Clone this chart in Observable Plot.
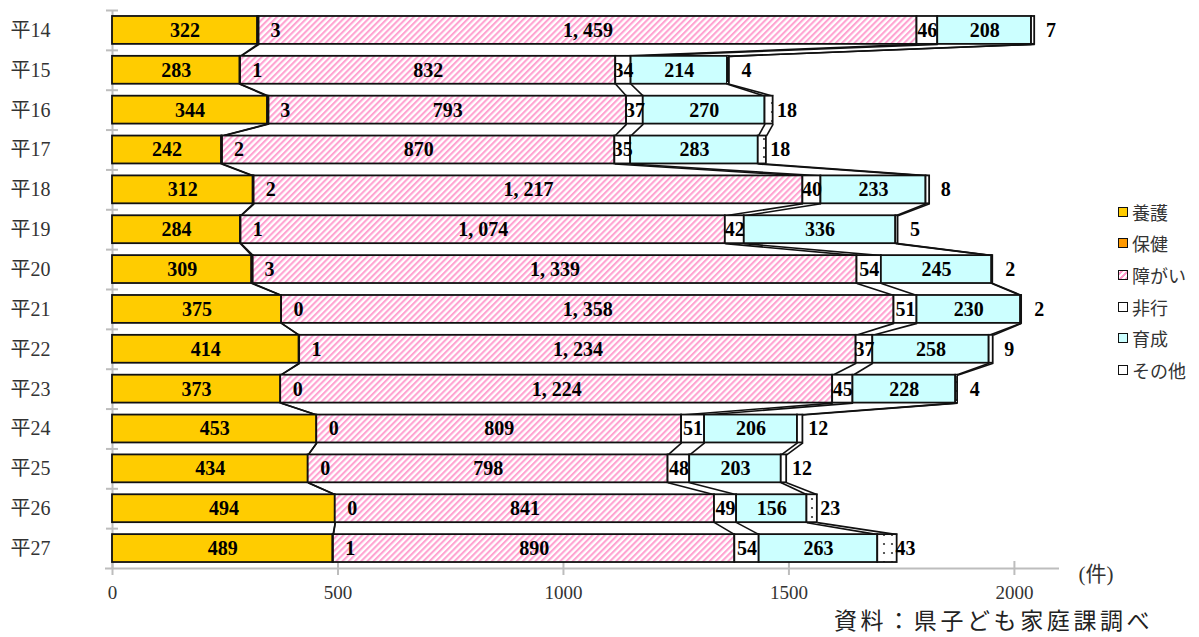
<!DOCTYPE html>
<html><head><meta charset="utf-8">
<script src="https://cdn.jsdelivr.net/npm/d3@7"></script>
<script src="https://cdn.jsdelivr.net/npm/@observablehq/plot@0.6"></script>
<style>
body{margin:0;background:#fff;}
#wrap{position:relative;width:1199px;height:637px;overflow:hidden;background:#fff;}
#legend{position:absolute;left:1118px;top:196px;font-family:"Noto Sans CJK JP","Noto Sans",sans-serif;font-size:18px;color:#333;}
#legend .item{display:flex;align-items:center;height:31.6px;}
#legend .sw{width:8px;height:8px;border:1.6px solid #111;margin-right:4px;box-sizing:content-box;}
#caption{position:absolute;left:834px;top:608px;font-family:"Noto Sans CJK JP","Noto Sans",sans-serif;font-size:23px;line-height:23px;letter-spacing:3.6px;color:#222;white-space:nowrap;}
</style></head><body><div id="wrap"></div>
<script>
const categories = ["平14","平15","平16","平17","平18","平19","平20","平21","平22","平23","平24","平25","平26","平27"];
const seriesNames = ["養護","保健","障がい","非行","育成","その他"];
const yogo   = [322,283,344,242,312,284,309,375,414,373,453,434,494,489];
const hoken  = [3,1,3,2,2,1,3,0,1,0,0,0,0,1];
const shogai = [1459,832,793,870,1217,1074,1339,1358,1234,1224,809,798,841,890];
const hiko   = [46,34,37,35,40,42,54,51,37,45,51,48,49,54];
const ikusei = [208,214,270,283,233,336,245,230,258,228,206,203,156,263];
const sonota = [7,4,18,18,8,5,2,2,9,4,12,12,23,43];
const xTicks = [0,500,1000,1500,2000];
const unitLabel = "(件)";
const captionText = "資料：県子ども家庭課調べ";

const seriesValues = [yogo,hoken,shogai,hiko,ikusei,sonota];
const fills = ["#ffcc00","#ff9900","url(#hatchPink)","#ffffff","#ccffff","url(#dotsOther)"];
const H = 0.35;
const serif = "'Liberation Serif','DejaVu Serif','Noto Sans CJK JP',serif";

const rows = [];
categories.forEach((c,i)=>{
  let acc = 0;
  seriesValues.forEach((arr,s)=>{
    const v = arr[i];
    rows.push({i, cat:c, s, series:seriesNames[s], value:v, x1:acc, x2:acc+v, mid:acc+v/2});
    acc += v;
  });
});
const links = [];
for (let i=0;i<categories.length-1;i++){
  for (let s=0;s<seriesNames.length;s++){
    const a = rows.find(r=>r.i===i&&r.s===s), b = rows.find(r=>r.i===i+1&&r.s===s);
    links.push({x1:a.x2, x2:b.x2, y1:i+H, y2:i+1-H});
  }
}
const fmt = v => d3.format(",")(v).replace(",", ", ");
const labelFont = {fontFamily:serif, fontWeight:"bold", fontSize:20, fill:"#000"};
const boundaries = d3.range(categories.length).map(i=>i-0.5);
const yMax = categories.length - 0.5;

const marks = [
  Plot.axisX(xTicks, {tickSize:0, tickPadding:17, fontSize:19, fontFamily:serif, fill:"#333", tickFormat:d=>String(d)}),
  Plot.axisY(d3.range(categories.length), {tickSize:0, tickPadding:62, fontSize:20, fontFamily:serif, fill:"#333", tickFormat:i=>categories[i]}),
  Plot.ruleX([0], {y1:-0.5, y2:yMax, stroke:"#bdbdbd", strokeWidth:2}),
  Plot.ruleY(boundaries, {y:d=>d, x1:0, x2:0, insetLeft:-6, insetRight:-6, stroke:"#bdbdbd", strokeWidth:2}),
  Plot.ruleY([yMax], {x1:0, x2:2100, insetLeft:-7, stroke:"#bdbdbd", strokeWidth:2}),
  Plot.ruleX(xTicks, {x:d=>d, y1:yMax, y2:yMax, insetTop:-7, insetBottom:-7, stroke:"#bdbdbd", strokeWidth:2}),
  Plot.link(links, {x1:"x1", y1:"y1", x2:"x2", y2:"y2", stroke:"#111", strokeWidth:1.6})
];
seriesNames.forEach((name,s)=>{
  marks.push(Plot.rect(rows.filter(r=>r.s===s), {x1:"x1", x2:"x2", y1:d=>d.i-H, y2:d=>d.i+H, fill:fills[s], stroke:"#111", strokeWidth:1.8}));
});
marks.push(Plot.text(rows.filter(r=>[0,2,3,4].includes(r.s)), {x:"mid", y:"i", text:d=>fmt(d.value), ...labelFont}));
marks.push(Plot.text(rows.filter(r=>r.s===1), {x:"mid", y:"i", dx:17, text:d=>fmt(d.value), ...labelFont}));
marks.push(Plot.text(rows.filter(r=>r.s===5), {x:"mid", y:"i", dx:18, text:d=>fmt(d.value), ...labelFont}));
marks.push(Plot.text([unitLabel], {frameAnchor:"bottom-right", text:d=>d, dx:19, dy:12, textAnchor:"start", fontSize:21, fontFamily:serif, fill:"#333"}));

const chart = Plot.plot({
  width:1199, height:608,
  marginLeft:112, marginRight:140, marginTop:10, marginBottom:40,
  x:{domain:[0,2100]},
  y:{domain:[-0.5,yMax], reverse:true},
  style:{fontFamily:serif, background:"#fff", color:"#333", overflow:"visible"},
  marks
});
d3.select(chart).insert("defs", ":first-child").html(`
  <pattern id="hatchPink" patternUnits="userSpaceOnUse" width="4.4" height="4.4" patternTransform="rotate(45)">
    <rect width="4.4" height="4.4" fill="#ffffff"/>
    <rect width="2.1" height="4.4" fill="#ffa3d1"/>
  </pattern>
  <pattern id="dotsOther" patternUnits="userSpaceOnUse" width="8" height="9">
    <rect width="8" height="9" fill="#ffffff"/>
    <circle cx="4" cy="4" r="1.1" fill="#333"/>
  </pattern>`);
const wrap = document.getElementById("wrap");
wrap.appendChild(chart);

const legend = document.createElement("div");
legend.id = "legend";
const swatchBg = ["#ffcc00","#ff9900","repeating-linear-gradient(-45deg,#ff9ccc 0 2px,#fff 2px 4px)","#ffffff","#ccffff","#ffffff"];
seriesNames.forEach((n,s)=>{
  const it = document.createElement("div"); it.className="item";
  const sw = document.createElement("span"); sw.className="sw"; sw.style.background = swatchBg[s];
  const tx = document.createElement("span"); tx.textContent = n;
  it.appendChild(sw); it.appendChild(tx); legend.appendChild(it);
});
wrap.appendChild(legend);
const cap = document.createElement("div"); cap.id="caption"; cap.textContent = captionText;
wrap.appendChild(cap);
</script></body></html>
